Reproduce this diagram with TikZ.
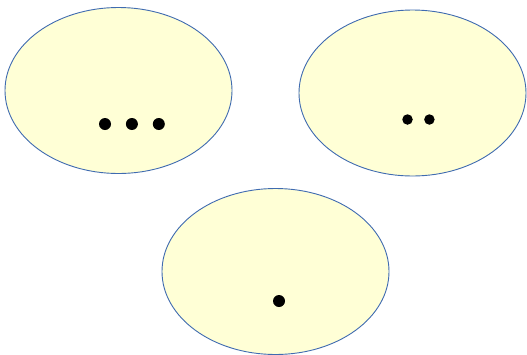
\documentclass[tikz,border=0pt]{standalone}
\usetikzlibrary{positioning, shapes.geometric}
\definecolor{cyellow}{HTML}{FFFFD6}
\definecolor{cblue}{HTML}{3F6BB0}
\tikzset{
  every picture/.style={line width=0.9pt},
  blob/.style={ellipse, draw=cblue, fill=cyellow, inner sep=0pt, minimum width=227pt, minimum height=166pt},
  pt/.style={circle, fill=black, inner sep=0pt, minimum size=#1},
  pt/.default=12pt,
}
\begin{document}
\begin{tikzpicture}[x=1pt, y=-1pt]
  \useasboundingbox (0,0) rectangle (527,354);
  % ---------- three sets ----------
  \node[blob] (three) at (118.5,90.5) {};
  \node[blob] (two) at (412.5,93) {};
  \node[blob] (one) at (275.5,271.5) {};
  % ---------- their elements ----------
  \node[pt] (a1) at (105,124) {};
  \node[pt, right=14pt of a1] (a2) {};
  \node[pt, right=14pt of a2] (a3) {};
  \node[pt=10.5pt] (b1) at (407.5,119.5) {};
  \node[pt=10.5pt, right=10.5pt of b1] (b2) {};
  \node[pt] (c1) at (279,301) {};
\end{tikzpicture}
\end{document}
